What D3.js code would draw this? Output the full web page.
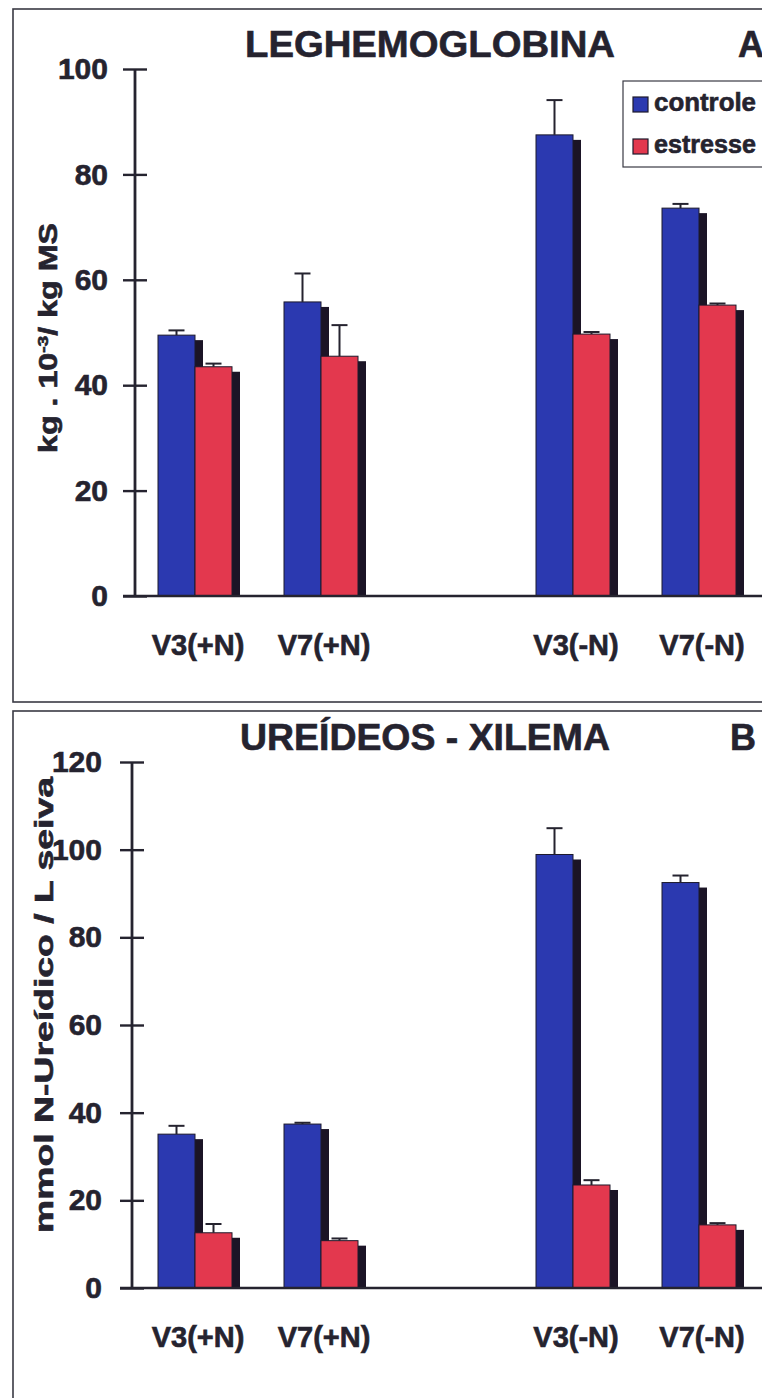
<!DOCTYPE html>
<html>
<head>
<meta charset="utf-8">
<script src="https://cdn.jsdelivr.net/npm/d3@7/dist/d3.min.js"></script>
<style>
  html, body { margin: 0; padding: 0; background: #ffffff; }
  svg { display: block; font-family: "Liberation Sans", Arial, sans-serif; font-weight: bold; }
  svg text { stroke: #25232f; stroke-width: 0.6px; }
</style>
</head>
<body>
<svg id="chart" width="762" height="1398"></svg>
<script>
// x slots: the empty slot separates the +N and -N treatments
const xSlots = ["V3(+N)", "V7(+N)", "", "V3(-N)", "V7(-N)"];
const categories = ["V3(+N)", "V7(+N)", "V3(-N)", "V7(-N)"];
const series = ["controle", "estresse"];

// A: leghemoglobina (kg . 10^-3 / kg MS)
const legControle    = [49.5, 55.8, 87.5, 73.6];
const legControleErr = [0.9, 5.4, 6.6, 0.8];
const legEstresse    = [43.5, 45.5, 49.7, 55.2];
const legEstresseErr = [0.6, 5.9, 0.4, 0.3];
const legTicks = [0, 20, 40, 60, 80, 100];

// B: ureídeos no xilema (mmol N-Ureídico / L seiva)
const ureControle    = [35.1, 37.4, 98.9, 92.5];
const ureControleErr = [1.9, 0.3, 6.0, 1.6];
const ureEstresse    = [12.6, 10.8, 23.5, 14.4];
const ureEstresseErr = [2.0, 0.5, 1.1, 0.4];
const ureTicks = [0, 20, 40, 60, 80, 100, 120];

const colors = { controle: "#2b39b0", estresse: "#e3384e" };
const ink = "#25232f";
const shadowColor = "#1b1426";
const fontFamily = "'Liberation Sans', Arial, sans-serif";

const svg = d3.select("#chart");

function stretchText(sel, target) {
  // scale factor that brings a text node to the wanted length
  const len = sel.node().getComputedTextLength();
  return len ? target / len : 1;
}

function drawPanel(cfg) {
  const g = svg.append("g");

  // frame
  g.append("rect")
    .attr("x", 13).attr("y", cfg.frameTop)
    .attr("width", 820).attr("height", cfg.frameHeight)
    .attr("fill", "#fff").attr("stroke", "#3a3a44").attr("stroke-width", 1.6);

  const y = d3.scaleLinear().domain([0, d3.max(cfg.ticks)]).range([cfg.y0, cfg.yTop]);
  const x = d3.scaleBand().domain(xSlots).range([132, 762]).paddingInner(0).paddingOuter(0);
  const xs = d3.scaleBand().domain(series).range([0, 74]).padding(0);

  const rows = categories.map((c, i) => ({
    cat: c,
    vals: [
      { s: "controle", v: cfg.controle[i], e: cfg.controleErr[i] },
      { s: "estresse", v: cfg.estresse[i], e: cfg.estresseErr[i] }
    ]
  }));

  const groups = g.selectAll(".grp").data(rows).join("g")
    .attr("transform", d => `translate(${x(d.cat) + x.bandwidth() / 2 - 37},0)`);

  const bw = xs.bandwidth();
  const sdx = 8, sdy = 5;

  groups.each(function (d) {
    const gg = d3.select(this);
    d.vals.forEach(b => {
      // drop shadow behind each bar
      gg.append("rect")
        .attr("x", xs(b.s) + sdx).attr("y", y(b.v) + sdy)
        .attr("width", bw).attr("height", Math.max(0, y(0) - y(b.v) - sdy))
        .attr("fill", shadowColor);
      gg.append("rect")
        .attr("x", xs(b.s)).attr("y", y(b.v))
        .attr("width", bw).attr("height", y(0) - y(b.v))
        .attr("fill", colors[b.s])
        .attr("stroke", "#1d1a2c").attr("stroke-width", 1);
      // upper error bar
      const cx = xs(b.s) + bw / 2;
      gg.append("line")
        .attr("x1", cx).attr("x2", cx)
        .attr("y1", y(b.v)).attr("y2", y(b.v + b.e))
        .attr("stroke", ink).attr("stroke-width", 2);
      gg.append("line")
        .attr("x1", cx - 8).attr("x2", cx + 8)
        .attr("y1", y(b.v + b.e)).attr("y2", y(b.v + b.e))
        .attr("stroke", ink).attr("stroke-width", 2);
    });
  });

  // y axis with ticks crossing the line
  const yAxis = g.append("g")
    .attr("transform", `translate(${cfg.axisX},0)`)
    .call(d3.axisLeft(y).tickValues(cfg.ticks).tickSize(12).tickPadding(cfg.tickPad));
  yAxis.select(".domain").remove();
  yAxis.selectAll(".tick line").attr("x1", 12).attr("stroke", ink).attr("stroke-width", 2.4);
  yAxis.selectAll(".tick text")
    .attr("fill", ink).style("font-size", "30px").style("font-weight", "bold")
    .style("font-family", fontFamily);
  yAxis.append("line")
    .attr("x1", 0).attr("x2", 0).attr("y1", y(0)).attr("y2", y(d3.max(cfg.ticks)))
    .attr("stroke", ink).attr("stroke-width", 2.8);

  // x axis
  const xAxis = g.append("g")
    .attr("transform", `translate(0,${y(0)})`)
    .call(d3.axisBottom(x).tickSize(0).tickPadding(38).tickFormat(d => d));
  xAxis.select(".domain").remove();
  xAxis.selectAll(".tick").filter(d => d === "").remove();
  xAxis.selectAll(".tick text")
    .attr("fill", ink).attr("dx", 3).style("font-size", "29px").style("font-weight", "bold")
    .style("font-family", fontFamily);
  g.append("line")
    .attr("x1", cfg.axisX - 12).attr("x2", 762).attr("y1", y(0)).attr("y2", y(0))
    .attr("stroke", ink).attr("stroke-width", 2.6);

  // title and panel letter
  g.append("text")
    .attr("x", cfg.titleX).attr("y", cfg.titleY)
    .attr("fill", ink).style("font-size", "36px")
    .attr("textLength", cfg.titleW).attr("lengthAdjust", "spacingAndGlyphs")
    .text(cfg.title);
  g.append("text")
    .attr("x", cfg.letterX).attr("y", cfg.titleY)
    .attr("fill", ink).style("font-size", "36px")
    .text(cfg.letter);

  // rotated y-axis label
  const lab = g.append("g");
  const lt = lab.append("text").attr("text-anchor", "middle").attr("fill", ink)
    .style("font-size", cfg.labelSize + "px");
  cfg.labelParts.forEach(p => {
    const ts = lt.append("tspan").text(p.t);
    if (p.sup) ts.attr("baseline-shift", "super").style("font-size", "15px");
  });
  const k = stretchText(lt, cfg.labelLen);
  lab.attr("transform", `translate(${cfg.labelX},${cfg.labelY}) rotate(-90) scale(${k},1)`);

  return { g, y };
}

drawPanel({
  frameTop: 9, frameHeight: 693,
  y0: 596, yTop: 69, ticks: legTicks, axisX: 135, tickPad: 15,
  controle: legControle, controleErr: legControleErr,
  estresse: legEstresse, estresseErr: legEstresseErr,
  title: "LEGHEMOGLOBINA", titleX: 245, titleY: 57, titleW: 370,
  letter: "A", letterX: 738,
  labelParts: [{ t: "kg . 10" }, { t: "-3", sup: true }, { t: "/ kg MS" }],
  labelSize: 25, labelLen: 230, labelX: 57, labelY: 338
});

drawPanel({
  frameTop: 711, frameHeight: 760,
  y0: 1288, yTop: 762, ticks: ureTicks, axisX: 132, tickPad: 18,
  controle: ureControle, controleErr: ureControleErr,
  estresse: ureEstresse, estresseErr: ureEstresseErr,
  title: "UREÍDEOS - XILEMA", titleX: 240, titleY: 750, titleW: 370,
  letter: "B", letterX: 730,
  labelParts: [{ t: "mmol N-Ureídico / L seiva" }],
  labelSize: 26, labelLen: 456, labelX: 53, labelY: 1005
});

// legend (panel A)
const leg = svg.append("g");
leg.append("rect")
  .attr("x", 623).attr("y", 81).attr("width", 200).attr("height", 86)
  .attr("fill", "#fff").attr("stroke", "#3a3a44").attr("stroke-width", 1.2);
const items = leg.selectAll(".item").data(series).join("g")
  .attr("transform", (d, i) => `translate(633,${97 + i * 42})`);
items.append("rect")
  .attr("width", 15).attr("height", 15)
  .attr("fill", d => colors[d]).attr("stroke", "#1d1a2c").attr("stroke-width", 1.2);
items.append("text")
  .attr("x", 21).attr("y", 14)
  .attr("fill", ink).style("font-size", "25px")
  .attr("textLength", 102).attr("lengthAdjust", "spacingAndGlyphs")
  .text(d => d);
</script>
</body>
</html>
